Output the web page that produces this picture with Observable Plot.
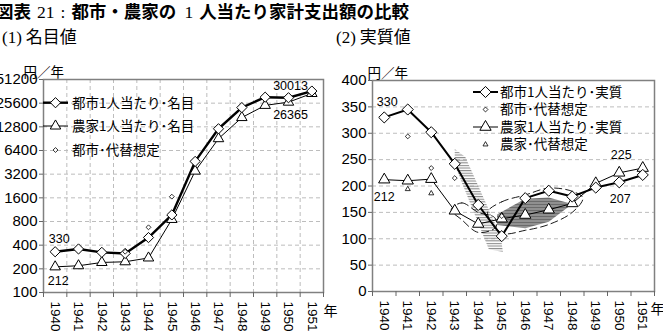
<!DOCTYPE html>
<html>
<head>
<meta charset="utf-8">
<script src="https://cdn.jsdelivr.net/npm/d3@7"></script>
<script src="https://cdn.jsdelivr.net/npm/@observablehq/plot@0.6"></script>
<style>
  body { margin: 0; background: #fff; width: 663px; height: 331px; overflow: hidden; position: relative; }
  .abs { position: absolute; white-space: nowrap; }
  .jp { font-family: 'Noto Sans CJK JP', sans-serif; }
  .serif { font-family: 'Liberation Serif', serif; font-weight: normal; }
</style>
</head>
<body>
<div class="abs jp" style="left:-4px;top:0;font-size:17.5px;font-weight:bold;line-height:21px">図表<span class="serif" style="margin-left:6px">21</span><span class="serif" style="margin:0 6px">:</span>都市・農家の<span class="serif" style="margin:0 6px 0 8px">1</span>人当たり家計支出額の比較</div>
<div class="abs jp" style="left:2px;top:26px;font-size:17px;line-height:20px"><span class="serif">(1)</span> 名目値</div>
<div class="abs jp" style="left:336px;top:26px;font-size:17px;line-height:20px"><span class="serif">(2)</span> 実質値</div>
<div id="left" class="abs" style="left:0;top:50px"></div>
<div id="right" class="abs" style="left:330px;top:50px"></div>
<script>
// Years on the category axis
const years = [1940, 1941, 1942, 1943, 1944, 1945, 1946, 1947, 1948, 1949, 1950, 1951];

// (1) nominal, yen per person per year (log scale)
const cityNominal = [330, 358, 324, 314, 500, 970, 4650, 12100, 22500, 30500, 30013, 36500];
const farmNominal = [212, 219, 241, 246, 275, 850, 3500, 9050, 16800, 24000, 26365, 34000];
const cityAltNominalYears = [1943, 1944, 1945];
const cityAltNominal = [330, 675, 1656];
const nominalTicks = [100, 200, 400, 800, 1600, 3200, 6400, 12800, 25600, 51200];

// (2) real, yen per person per year
const cityReal = [330, 345, 302, 242, 164, 105, 177, 191, 180, 197, 207, 221];
const farmReal = [212, 210, 213, 153, 128, 138, 145, 155, 167, 205, 225, 234];
const cityAltRealYears = [1941, 1942, 1943, 1945];
const cityAltReal = [294, 234, 215, 143];
const farmAltRealYears = [1941, 1942];
const farmAltReal = [194, 186];
const realTicks = [0, 50, 100, 150, 200, 250, 300, 350, 400];

// Shaded ranges and dashed envelopes of the alternative estimates (real)
const cityBandYears = [1943.0, 1943.45, 1944.95, 1945.05, 1944.45, 1943.0];
const cityBandValues = [270, 255, 105, 75, 80, 240];
const farmBandYears = [1944.8, 1946.0, 1947.0, 1948.0, 1947.0, 1946.0, 1944.8];
const farmBandValues = [146, 176, 178, 166, 132, 120, 126];
const envAYears = [1942.85, 1943.3, 1944.0, 1944.7, 1944.75, 1944.0, 1943.3];
const envAValues = [155, 168, 150, 140, 122, 112, 136];
const envBYears = [1944.4, 1945.0, 1946.0, 1947.0, 1948.0, 1948.45, 1948.0, 1947.0, 1946.0, 1945.0];
const envBValues = [150, 170, 183, 196, 190, 177, 150, 127, 116, 111];

const rows = (xs, ys) => xs.map((year, i) => ({year, value: ys[i]}));
const bounds = d3.range(1939.5, 1952, 1);

const cityN = rows(years, cityNominal);
const farmN = rows(years, farmNominal);
const cityAltN = rows(cityAltNominalYears, cityAltNominal);
const cityR = rows(years, cityReal);
const farmR = rows(years, farmReal);
const cityAltR = rows(cityAltRealYears, cityAltReal);
const farmAltR = rows(farmAltRealYears, farmAltReal);

const baseStyle = {
  fontFamily: "'Liberation Sans', Arial, sans-serif",
  fontSize: "14px",
  background: "transparent",
  overflow: "visible",
  color: "#000"
};
const gridStyle = {stroke: "#bdbdbd", strokeOpacity: 1, strokeDasharray: "4,3"};
const jp = "'Noto Sans CJK JP', sans-serif";

function xAxes() {
  return [
    Plot.axisX(bounds, {tickSize: 5, tickFormat: () => "", stroke: "#666"}),
    Plot.axisX(years, {tickSize: 0, tickPadding: 9, tickRotate: 90, textAnchor: "start", lineAnchor: "middle",
      fontSize: 13.5, tickFormat: d => String(d)})
  ];
}

const leftSvg = Plot.plot({
  width: 335, height: 281,
  marginLeft: 43, marginRight: 12, marginTop: 29, marginBottom: 39,
  style: baseStyle,
  x: {domain: [1939.5, 1951.5], label: null},
  y: {type: "log", base: 2, domain: [100, 51200], label: null},
  marks: [
    Plot.gridY(nominalTicks.slice(1, -1), gridStyle),
    Plot.gridX(bounds.slice(1, -1), gridStyle),
    Plot.frame({stroke: "#808080", strokeWidth: 1.5}),
    Plot.axisY(nominalTicks, {tickSize: 4, tickPadding: 2, fontSize: 15, tickFormat: d => String(d), stroke: "#666"}),
    ...xAxes(),
    Plot.line(farmN, {x: "year", y: "value", stroke: "#000", strokeWidth: 1}),
    Plot.line(cityN, {x: "year", y: "value", stroke: "#000", strokeWidth: 2.4}),
    Plot.dot(farmN, {x: "year", y: "value", symbol: "triangle2", r: 5, fill: "#fff", stroke: "#000", strokeWidth: 1}),
    Plot.dot(cityN, {x: "year", y: "value", symbol: "diamond2", r: 4.6, fill: "#fff", stroke: "#000", strokeWidth: 1}),
    Plot.dot(cityAltN, {x: "year", y: "value", symbol: "diamond2", r: 2.2, fill: "#fff", stroke: "#000", strokeWidth: 0.8}),
    Plot.text([cityN[0]], {x: "year", y: "value", text: d => String(d.value), dx: 4, dy: -13, fontSize: 12.5}),
    Plot.text([farmN[0]], {x: "year", y: "value", text: d => String(d.value), dx: 3, dy: 14, fontSize: 12.5}),
    Plot.text([cityN[10]], {x: "year", y: "value", text: d => String(d.value), dx: 2, dy: -12, fontSize: 12.5}),
    Plot.text([farmN[10]], {x: "year", y: "value", text: d => String(d.value), dx: 2, dy: 13, fontSize: 12.5}),
    Plot.text(["円／年"], {frameAnchor: "top-left", dx: -20, dy: -12, textAnchor: "start", fontFamily: jp, fontSize: 13.5}),
    Plot.text(["年"], {frameAnchor: "bottom-right", dx: 0, dy: 23, textAnchor: "start", fontFamily: jp, fontSize: 14})
  ]
});

const rightSvg = Plot.plot({
  width: 333, height: 281,
  marginLeft: 42, marginRight: 9, marginTop: 30, marginBottom: 40,
  style: baseStyle,
  x: {domain: [1939.5, 1951.5], label: null},
  y: {domain: [0, 400], label: null},
  marks: [
    Plot.gridY(realTicks.slice(1, -1), gridStyle),
    Plot.line(rows(cityBandYears, cityBandValues), {x: "year", y: "value", fill: "url(#hatchH)", stroke: "none"}),
    Plot.line(rows(farmBandYears, farmBandValues), {x: "year", y: "value", fill: "url(#stipple)", stroke: "none"}),
    Plot.line(rows(envAYears, envAValues), {x: "year", y: "value", curve: "catmull-rom-closed", stroke: "#000", strokeWidth: 0.9, strokeDasharray: "7,4"}),
    Plot.line(rows(envBYears, envBValues), {x: "year", y: "value", curve: "catmull-rom-closed", stroke: "#000", strokeWidth: 0.9, strokeDasharray: "7,4"}),
    Plot.frame({stroke: "#808080", strokeWidth: 1.5}),
    Plot.axisY(realTicks, {tickSize: 4, tickPadding: 2, fontSize: 15, stroke: "#666"}),
    ...xAxes(),
    Plot.line(farmR, {x: "year", y: "value", stroke: "#000", strokeWidth: 1}),
    Plot.line(cityR, {x: "year", y: "value", stroke: "#000", strokeWidth: 2}),
    Plot.dot(farmR, {x: "year", y: "value", symbol: "triangle2", r: 5.4, fill: "#fff", stroke: "#000", strokeWidth: 1}),
    Plot.dot(cityR, {x: "year", y: "value", symbol: "diamond2", r: 5, fill: "#fff", stroke: "#000", strokeWidth: 1}),
    Plot.dot(cityAltR, {x: "year", y: "value", symbol: "diamond2", r: 2.2, fill: "#fff", stroke: "#000", strokeWidth: 0.8}),
    Plot.dot(farmAltR, {x: "year", y: "value", symbol: "triangle2", r: 2.4, fill: "#fff", stroke: "#000", strokeWidth: 0.8}),
    Plot.text([cityR[0]], {x: "year", y: "value", text: d => String(d.value), dx: 3, dy: -15, fontSize: 12.5}),
    Plot.text([farmR[0]], {x: "year", y: "value", text: d => String(d.value), dx: 0, dy: 17, fontSize: 12.5}),
    Plot.text([farmR[10]], {x: "year", y: "value", text: d => String(d.value), dx: 2, dy: -18, fontSize: 12.5}),
    Plot.text([cityR[10]], {x: "year", y: "value", text: d => String(d.value), dx: 1, dy: 17, fontSize: 12.5}),
    Plot.text(["円／年"], {frameAnchor: "top-left", dx: -5, dy: -12, textAnchor: "start", fontFamily: jp, fontSize: 13.5}),
    Plot.text(["年"], {frameAnchor: "bottom-right", dx: -4, dy: 22, textAnchor: "start", fontFamily: jp, fontSize: 14})
  ]
});

// Fill patterns for the shaded ranges
const defs = d3.select(rightSvg).insert("defs", ":first-child");
const hatch = defs.append("pattern").attr("id", "hatchH").attr("patternUnits", "userSpaceOnUse")
  .attr("width", 4).attr("height", 2.6);
hatch.append("rect").attr("width", 4).attr("height", 1.1).attr("fill", "#8c8c8c");
const stip = defs.append("pattern").attr("id", "stipple").attr("patternUnits", "userSpaceOnUse")
  .attr("width", 2).attr("height", 3);
stip.append("rect").attr("width", 2).attr("height", 3).attr("fill", "#b4b4b4");
stip.append("rect").attr("width", 1).attr("height", 2).attr("fill", "#222");

// In-plot legends
function legend(svg, x0, x1, xt, items) {
  const g = d3.select(svg).append("g").attr("text-anchor", "start");
  const xm = (x0 + x1) / 2;
  for (const it of items) {
    if (it.line) g.append("line").attr("x1", x0).attr("x2", x1).attr("y1", it.y).attr("y2", it.y)
      .attr("stroke", "#000").attr("stroke-width", it.line);
    const type = it.symbol === "diamond" ? d3.symbolDiamond2 : d3.symbolTriangle2;
    g.append("path").attr("d", d3.symbol(type, Math.PI * it.r * it.r)())
      .attr("transform", `translate(${xm},${it.y})`)
      .attr("fill", "#fff").attr("stroke", "#000").attr("stroke-width", it.r > 3 ? 1 : 0.8);
    g.append("text").attr("x", xt).attr("y", it.y).attr("dy", "0.36em").attr("text-anchor", "start")
      .attr("font-family", jp).attr("font-size", 13.5).attr("fill", "#000").text(it.label);
  }
}
legend(leftSvg, 43, 68, 72, [
  {y: 52.7, line: 2.4, symbol: "diamond", r: 4.6, label: "都市1人当たり･名目"},
  {y: 76, line: 1, symbol: "triangle", r: 5, label: "農家1人当たり･名目"},
  {y: 100, line: 0, symbol: "diamond", r: 2.2, label: "都市･代替想定"}
]);
legend(rightSvg, 143, 168, 170, [
  {y: 42, line: 2, symbol: "diamond", r: 5, label: "都市1人当たり･実質"},
  {y: 59.5, line: 0, symbol: "diamond", r: 2.2, label: "都市･代替想定"},
  {y: 77, line: 1, symbol: "triangle", r: 5.4, label: "農家1人当たり･実質"},
  {y: 94.5, line: 0, symbol: "triangle", r: 2.4, label: "農家･代替想定"}
]);

document.getElementById("left").append(leftSvg);
document.getElementById("right").append(rightSvg);
</script>
</body>
</html>
